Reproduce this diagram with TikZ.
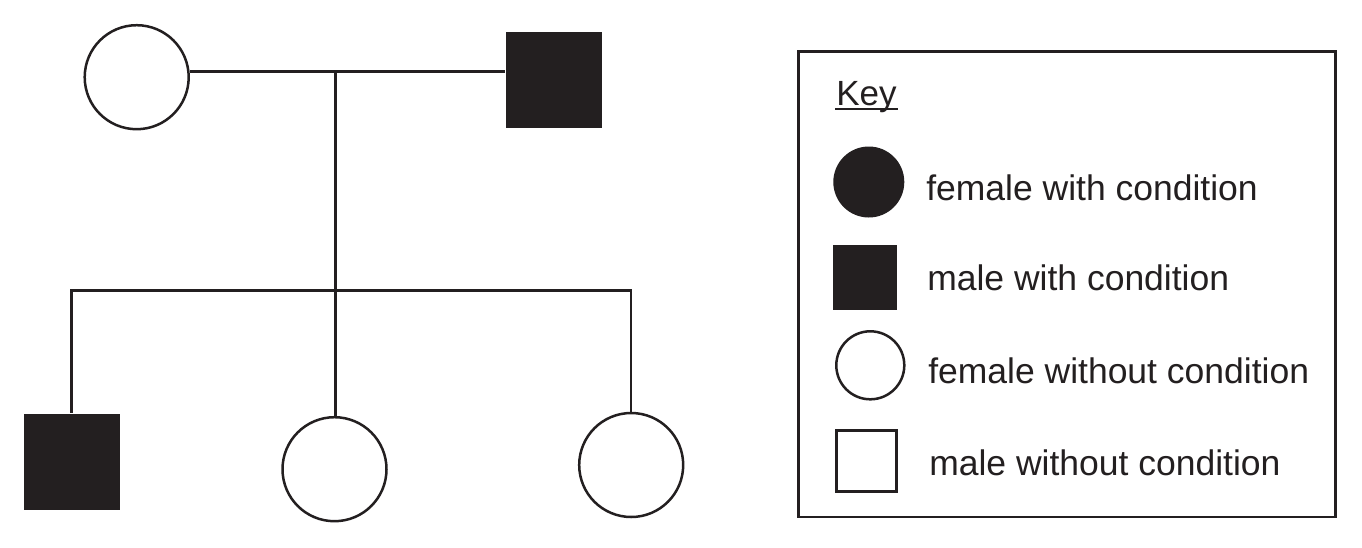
\documentclass[tikz,border=0pt]{standalone}
\usepackage{fontspec}
\setmainfont{Liberation Sans}
\definecolor{ink}{HTML}{231F20}
\begin{document}
\begin{tikzpicture}[x=1pt,y=-1pt,
  line width=2.5pt,
  femopen/.style={circle,draw=ink,fill=white,inner sep=0pt,minimum size=104pt},
  malefill/.style={rectangle,fill=ink,inner sep=0pt,minimum size=96pt},
  keycircfill/.style={circle,fill=ink,inner sep=0pt,minimum size=71pt},
  keycircopen/.style={circle,draw=ink,inner sep=0pt,minimum size=68pt},
  keysqfill/.style={rectangle,fill=ink,inner sep=0pt,minimum width=64pt,minimum height=65pt},
  keysqopen/.style={rectangle,draw=ink,inner sep=0pt,minimum width=60pt,minimum height=61pt},
  keytext/.style={anchor=base west,inner sep=0pt,text=ink,font=\fontsize{35.5}{42}\selectfont},
  link/.style={draw=ink,line width=2.5pt,line join=miter}
]
\useasboundingbox[fill=white] (0,0) rectangle (1362,547);

% parents
\node[femopen] (mother) at (136.7,77.2) {};
\node[malefill] (father) at (553.8,80) {};
\coordinate (mate) at (335.5,71.7);
\coordinate (sib) at (335.5,290.7);

% children
\node[malefill] (son) at (71.5,462) {};
\node[femopen] (dau1) at (334.5,469.2) {};
\node[femopen] (dau2) at (631.2,465) {};

% connectors
\draw[link] (mother.6) -- (father.west |- mother.6);
\draw[link] (mate) -- (sib);
\draw[link] (son.north) -- (son.north |- sib) -- (dau2.north |- sib) -- (dau2.north);
\draw[link] (sib) -- (sib |- dau1.north);

% key
\node[draw=ink,line width=2.7pt,rectangle,inner sep=0pt,minimum width=536.6pt,minimum height=465.7pt] (keybox) at (1067,284.15) {};
\node[keytext,font=\fontsize{35}{42}\selectfont] (keytitle) at (835,105.7) {Key};
\draw[draw=ink,line width=2pt] ([yshift=-3.6pt]keytitle.base west) -- ([yshift=-3.6pt]keytitle.base east);

\node[keycircfill] (k1) at (868.8,182) {};
\node[keytext] (t1) at (925,200) {female with condition};
\node[keysqfill] (k2) at (865.3,277.5) {};
\node[keytext] (t2) at (926,290) {male with condition};
\node[keycircopen] (k3) at (870.3,365.3) {};
\node[keytext] (t3) at (927,383) {female without condition};
\node[keysqopen] (k4) at (866.3,460.8) {};
\node[keytext] (t4) at (928,475) {male without condition};
\end{tikzpicture}
\end{document}
